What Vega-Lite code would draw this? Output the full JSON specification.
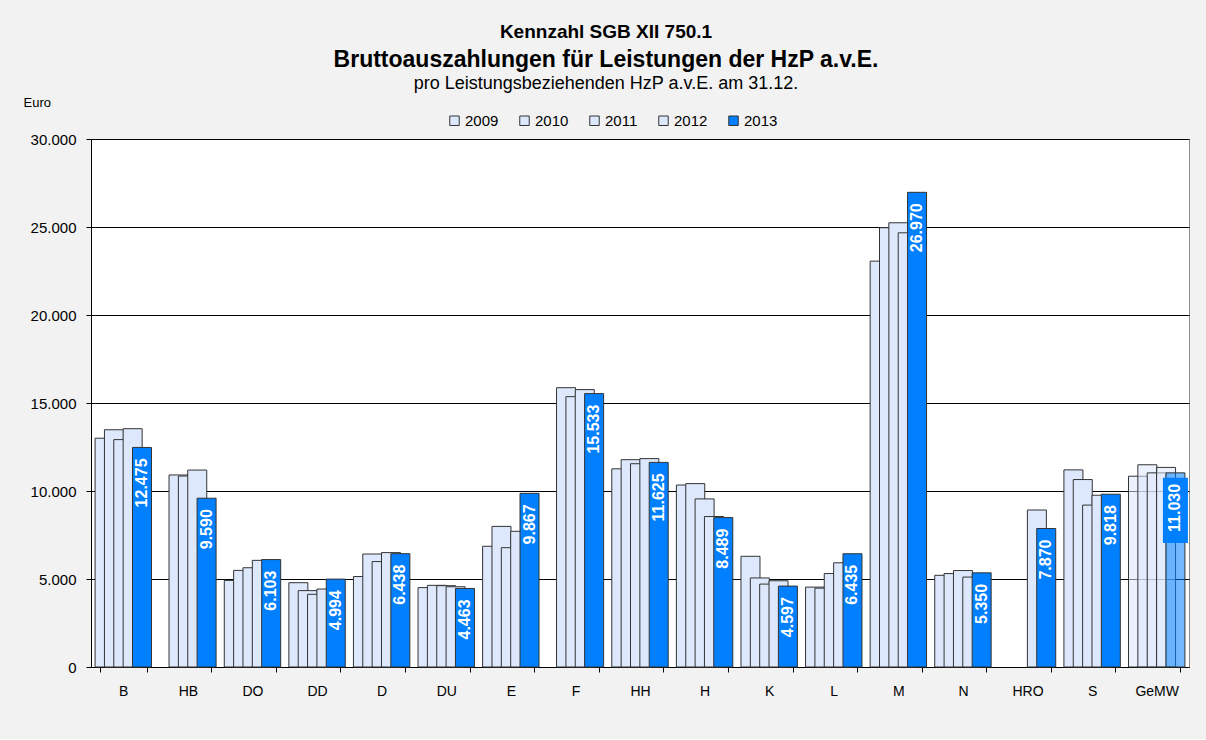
{
  "$schema": "https://vega.github.io/schema/vega-lite/v6.json",
  "background": "#f2f2f2",
  "padding": {"left": 22, "top": 22, "right": 18, "bottom": 40},
  "title": {
    "text": "Kennzahl SGB XII 750.1",
    "fontSize": 19,
    "fontWeight": "bold",
    "font": "Liberation Sans",
    "color": "#000000",
    "anchor": "middle",
    "frame": "bounds",
    "offset": 7
  },
  "config": {
    "locale": {"number": {"decimal": ",", "thousands": ".", "grouping": [3], "currency": ["", " €"]}},
    "font": "Liberation Sans",
    "view": {"stroke": "#8c8c8c", "fill": "#ffffff"},
    "axis": {
      "labelFont": "Liberation Sans",
      "labelColor": "#000000",
      "labelFontSize": 14,
      "domainColor": "#000000",
      "tickColor": "#000000",
      "tickSize": 5,
      "gridColor": "#000000",
      "gridOpacity": 1,
      "gridWidth": 1
    },
    "legend": {
      "labelFont": "Liberation Sans",
      "labelFontSize": 15,
      "labelColor": "#000000"
    }
  },
  "datasets": {
    "werte": [
      {"Region": "B", "Jahr": "2009", "Wert": 13000},
      {"Region": "B", "Jahr": "2010", "Wert": 13480},
      {"Region": "B", "Jahr": "2011", "Wert": 12920},
      {"Region": "B", "Jahr": "2012", "Wert": 13540},
      {"Region": "B", "Jahr": "2013", "Wert": 12475},
      {"Region": "HB", "Jahr": "2010", "Wert": 10910},
      {"Region": "HB", "Jahr": "2011", "Wert": 10850},
      {"Region": "HB", "Jahr": "2012", "Wert": 11190},
      {"Region": "HB", "Jahr": "2013", "Wert": 9590},
      {"Region": "DO", "Jahr": "2009", "Wert": 4920},
      {"Region": "DO", "Jahr": "2010", "Wert": 5490},
      {"Region": "DO", "Jahr": "2011", "Wert": 5640},
      {"Region": "DO", "Jahr": "2012", "Wert": 6060},
      {"Region": "DO", "Jahr": "2013", "Wert": 6103},
      {"Region": "DD", "Jahr": "2009", "Wert": 4790},
      {"Region": "DD", "Jahr": "2010", "Wert": 4340},
      {"Region": "DD", "Jahr": "2011", "Wert": 4130},
      {"Region": "DD", "Jahr": "2012", "Wert": 4430},
      {"Region": "DD", "Jahr": "2013", "Wert": 4994},
      {"Region": "D", "Jahr": "2009", "Wert": 5140},
      {"Region": "D", "Jahr": "2010", "Wert": 6420},
      {"Region": "D", "Jahr": "2011", "Wert": 5990},
      {"Region": "D", "Jahr": "2012", "Wert": 6500},
      {"Region": "D", "Jahr": "2013", "Wert": 6438},
      {"Region": "DU", "Jahr": "2009", "Wert": 4510},
      {"Region": "DU", "Jahr": "2010", "Wert": 4640},
      {"Region": "DU", "Jahr": "2011", "Wert": 4620},
      {"Region": "DU", "Jahr": "2012", "Wert": 4560},
      {"Region": "DU", "Jahr": "2013", "Wert": 4463},
      {"Region": "E", "Jahr": "2009", "Wert": 6860},
      {"Region": "E", "Jahr": "2010", "Wert": 7990},
      {"Region": "E", "Jahr": "2011", "Wert": 6780},
      {"Region": "E", "Jahr": "2012", "Wert": 7710},
      {"Region": "E", "Jahr": "2013", "Wert": 9867},
      {"Region": "F", "Jahr": "2010", "Wert": 15870},
      {"Region": "F", "Jahr": "2011", "Wert": 15360},
      {"Region": "F", "Jahr": "2012", "Wert": 15760},
      {"Region": "F", "Jahr": "2013", "Wert": 15533},
      {"Region": "HH", "Jahr": "2009", "Wert": 11260},
      {"Region": "HH", "Jahr": "2010", "Wert": 11780},
      {"Region": "HH", "Jahr": "2011", "Wert": 11550},
      {"Region": "HH", "Jahr": "2012", "Wert": 11840},
      {"Region": "HH", "Jahr": "2013", "Wert": 11625},
      {"Region": "H", "Jahr": "2009", "Wert": 10340},
      {"Region": "H", "Jahr": "2010", "Wert": 10420},
      {"Region": "H", "Jahr": "2011", "Wert": 9550},
      {"Region": "H", "Jahr": "2012", "Wert": 8550},
      {"Region": "H", "Jahr": "2013", "Wert": 8489},
      {"Region": "K", "Jahr": "2009", "Wert": 6290},
      {"Region": "K", "Jahr": "2010", "Wert": 5060},
      {"Region": "K", "Jahr": "2011", "Wert": 4710},
      {"Region": "K", "Jahr": "2012", "Wert": 4900},
      {"Region": "K", "Jahr": "2013", "Wert": 4597},
      {"Region": "L", "Jahr": "2009", "Wert": 4540},
      {"Region": "L", "Jahr": "2010", "Wert": 4480},
      {"Region": "L", "Jahr": "2011", "Wert": 5310},
      {"Region": "L", "Jahr": "2012", "Wert": 5920},
      {"Region": "L", "Jahr": "2013", "Wert": 6435},
      {"Region": "M", "Jahr": "2009", "Wert": 23060},
      {"Region": "M", "Jahr": "2010", "Wert": 24960},
      {"Region": "M", "Jahr": "2011", "Wert": 25240},
      {"Region": "M", "Jahr": "2012", "Wert": 24670},
      {"Region": "M", "Jahr": "2013", "Wert": 26970},
      {"Region": "N", "Jahr": "2009", "Wert": 5210},
      {"Region": "N", "Jahr": "2010", "Wert": 5310},
      {"Region": "N", "Jahr": "2011", "Wert": 5480},
      {"Region": "N", "Jahr": "2012", "Wert": 5110},
      {"Region": "N", "Jahr": "2013", "Wert": 5350},
      {"Region": "HRO", "Jahr": "2012", "Wert": 8920},
      {"Region": "HRO", "Jahr": "2013", "Wert": 7870},
      {"Region": "S", "Jahr": "2009", "Wert": 11200},
      {"Region": "S", "Jahr": "2010", "Wert": 10650},
      {"Region": "S", "Jahr": "2011", "Wert": 9200},
      {"Region": "S", "Jahr": "2012", "Wert": 9760},
      {"Region": "S", "Jahr": "2013", "Wert": 9818},
      {"Region": "GeMW", "Jahr": "2009", "Wert": 10840},
      {"Region": "GeMW", "Jahr": "2010", "Wert": 11490},
      {"Region": "GeMW", "Jahr": "2011", "Wert": 11030},
      {"Region": "GeMW", "Jahr": "2012", "Wert": 11340},
      {"Region": "GeMW", "Jahr": "2013", "Wert": 11030}
    ]
  },
  "vconcat": [
    {
      "title": {
        "text": "Bruttoauszahlungen für Leistungen der HzP a.v.E.",
        "subtitle": "pro Leistungsbeziehenden HzP a.v.E.  am 31.12.",
        "fontSize": 23,
        "fontWeight": "bold",
        "font": "Liberation Sans",
        "color": "#000000",
        "subtitleFont": "Liberation Sans",
        "subtitleFontSize": 18,
        "subtitleColor": "#000000",
        "subtitlePadding": 3,
        "anchor": "middle",
        "frame": "bounds",
        "offset": 3
      },
      "width": 1098,
      "height": 528,
      "data": {"name": "werte"},
      "encoding": {
        "x": {
          "field": "Region",
          "type": "nominal",
          "sort": null,
          "scale": {"paddingInner": 0.276, "paddingOuter": 0.138},
          "axis": {
            "title": null,
            "labelAngle": 0,
            "labelPadding": 12,
            "tickBand": "extent",
            "grid": false
          }
        },
        "xOffset": {
          "field": "Jahr",
          "type": "nominal",
          "sort": ["2009", "2010", "2011", "2012", "2013"],
          "scale": {"domain": ["2009", "2010", "2011", "2012", "2013"], "paddingInner": 0, "paddingOuter": 0}
        },
        "y": {
          "field": "Wert",
          "type": "quantitative",
          "scale": {"domain": [0, 30000]},
          "axis": {
            "title": "Euro",
            "titleAngle": 0,
            "titleAlign": "left",
            "titleBaseline": "middle",
            "titleX": -68,
            "titleY": -37,
            "titleFont": "Liberation Sans",
            "titleFontSize": 13,
            "titleFontWeight": "normal",
            "titleColor": "#000000",
            "values": [0, 5000, 10000, 15000, 20000, 25000, 30000],
            "format": ",.0f",
            "labelFontSize": 15,
            "labelPadding": 10,
            "grid": true
          }
        }
      },
      "layer": [
        {
          "mark": {"type": "bar", "size": 19, "stroke": "#333333", "strokeWidth": 1},
          "encoding": {
            "color": {
              "field": "Jahr",
              "type": "nominal",
              "scale": {
                "domain": ["2009", "2010", "2011", "2012", "2013"],
                "range": ["#dde8fc", "#dde8fc", "#dde8fc", "#dde8fc", "#0080ff"]
              },
              "legend": {
                "title": null,
                "orient": "none",
                "direction": "horizontal",
                "legendX": 356,
                "legendY": -26,
                "symbolType": "square",
                "symbolSize": 90,
                "symbolStrokeColor": "#333333",
                "symbolStrokeWidth": 1,
                "symbolOpacity": 1,
                "labelOffset": 3,
                "columnPadding": 18
              }
            },
            "fillOpacity": {
              "condition": {"test": "datum.Region === 'GeMW'", "value": 0.55},
              "value": 1
            }
          }
        },
        {
          "transform": [{"filter": "datum.Jahr === '2013' && datum.Region === 'GeMW'"}],
          "mark": {"type": "bar", "size": 25, "color": "#0080ff", "strokeWidth": 0},
          "encoding": {
            "y": {"datum": 10750, "type": "quantitative"},
            "y2": {"datum": 7050}
          }
        },
        {
          "transform": [{"filter": "datum.Jahr === '2013'"}],
          "mark": {
            "type": "text",
            "angle": 270,
            "align": "right",
            "baseline": "middle",
            "dx": -11,
            "color": "#ffffff",
            "font": "Liberation Sans",
            "fontSize": 16,
            "fontWeight": "bold"
          },
          "encoding": {
            "text": {"field": "Wert", "type": "quantitative", "format": ",.0f"}
          }
        }
      ]
    }
  ]
}
